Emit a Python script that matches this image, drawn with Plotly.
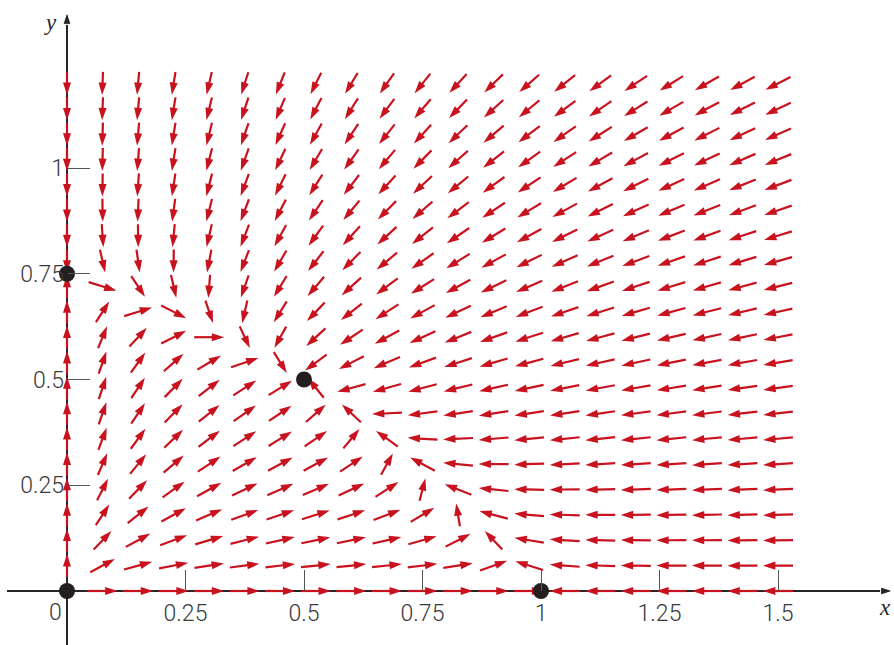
import math
import plotly.graph_objects as go

# ---- data -------------------------------------------------------------
# grid of direction-field sample points
X_GRID = [0.0, 0.075, 0.15, 0.225, 0.3, 0.375, 0.45, 0.525, 0.6, 0.675, 0.75,
          0.825, 0.9, 0.975, 1.05, 1.125, 1.2, 1.275, 1.35, 1.425, 1.5]
Y_GRID = [0.0, 0.06, 0.12, 0.18, 0.24, 0.3, 0.36, 0.42, 0.48, 0.54, 0.6,
          0.66, 0.72, 0.78, 0.84, 0.9, 0.96, 1.02, 1.08, 1.14, 1.2]

# competing-species system  dx/dt = x(a1 - b1 x - c1 y),  dy/dt = y(a2 - b2 y - c2 x)
A1, B1, C1 = 1.0, 1.0, 1.0
A2, B2, C2 = 0.75, 1.0, 0.5

# critical points
EQ_X = [0.0, 1.0, 0.0, 0.5]
EQ_Y = [0.0, 0.0, 0.75, 0.5]

X_TICKS = [0.25, 0.5, 0.75, 1.0, 1.25, 1.5]
X_TICK_LABELS = ["0.25", "0.5", "0.75", "1", "1.25", "1.5"]
Y_TICKS = [0.25, 0.5, 0.75, 1.0]
Y_TICK_LABELS = ["0.25", "0.5", "0.75", "1"]

# ---- layout constants --------------------------------------------------
W, H = 894, 645
X_RANGE = [-0.14135, 1.74473]
Y_RANGE = [-0.12766, 1.39716]
KX = W / (X_RANGE[1] - X_RANGE[0])   # px per x unit
KY = H / (Y_RANGE[1] - Y_RANGE[0])   # px per y unit
HL, VL = 30.0, 23.0                  # arrow pixel length (horizontal / vertical)

RED = "#c8131f"
DARK = "#262626"
TXT = "#3a3a3a"
TICKFONT = dict(family="Roboto, Liberation Sans, sans-serif", size=23, color=TXT, weight=300)


def field(x, y):
    return x * (A1 - B1 * x - C1 * y), y * (A2 - B2 * y - C2 * x)


ax_x, ax_y, ax_s = [], [], []
for gx in X_GRID:
    for gy in Y_GRID:
        f, g = field(gx, gy)
        if f == 0 and g == 0:
            continue
        px, py = f * KX, g * KY
        s = 1.0 / math.sqrt((px / HL) ** 2 + (py / VL) ** 2)
        dx, dy = px * s / KX / 2, py * s / KY / 2
        ax_x += [gx - dx, gx + dx, None]
        ax_y += [gy - dy, gy + dy, None]
        ax_s += [0, 13, 0]

fig = go.Figure()

# axes lines with arrow heads
x_axis_end = (W - 1) / KX + X_RANGE[0]
y_axis_end = Y_RANGE[1] - 12 / KY
fig.add_trace(go.Scatter(
    x=[X_RANGE[0] + 7 / KX, x_axis_end], y=[0, 0], mode="lines+markers",
    line=dict(color=DARK, width=2),
    marker=dict(symbol="arrow", size=[0, 13], angleref="previous", color=DARK, opacity=1),
    hoverinfo="skip", showlegend=False, cliponaxis=False))
fig.add_trace(go.Scatter(
    x=[0, 0], y=[Y_RANGE[0], y_axis_end], mode="lines+markers",
    line=dict(color=DARK, width=2),
    marker=dict(symbol="arrow", size=[0, 13], angleref="previous", color=DARK, opacity=1),
    hoverinfo="skip", showlegend=False, cliponaxis=False))

# direction field
fig.add_trace(go.Scatter(
    x=ax_x, y=ax_y, mode="lines+markers",
    line=dict(color=RED, width=2.2),
    marker=dict(symbol="arrow", size=ax_s, angleref="previous", color=RED,
                opacity=1, line=dict(width=0)),
    hoverinfo="skip", showlegend=False, cliponaxis=False))

# critical points
fig.add_trace(go.Scatter(
    x=EQ_X, y=EQ_Y, mode="markers",
    marker=dict(size=16, color="#231f20", opacity=1),
    hoverinfo="skip", showlegend=False, cliponaxis=False))

fig.update_layout(
    width=W, height=H,
    margin=dict(l=0, r=0, t=0, b=0),
    paper_bgcolor="white", plot_bgcolor="white",
    font=TICKFONT,
    xaxis=dict(range=X_RANGE, showgrid=False, zeroline=False, showline=False,
               anchor="free", position=(0 - Y_RANGE[0]) / (Y_RANGE[1] - Y_RANGE[0]),
               tickmode="array", tickvals=X_TICKS, ticktext=X_TICK_LABELS,
               ticks="inside", ticklen=21, tickwidth=1.3, tickcolor="#555",
               tickfont=TICKFONT, ticklabelstandoff=6,
               automargin=False, fixedrange=True),
    yaxis=dict(range=Y_RANGE, showgrid=False, zeroline=False, showline=False,
               anchor="free", position=(0 - X_RANGE[0]) / (X_RANGE[1] - X_RANGE[0]),
               tickmode="array", tickvals=Y_TICKS, ticktext=Y_TICK_LABELS,
               ticks="inside", ticklen=22, tickwidth=1.3, tickcolor="#555",
               tickfont=TICKFONT, ticklabelstandoff=3,
               automargin=False, fixedrange=True),
    annotations=[
        dict(x=-0.025, y=0, xref="x", yref="y", text="0", showarrow=False,
             xanchor="center", yanchor="top", yshift=-6,
             font=TICKFONT),
        dict(x=x_axis_end, y=0, xref="x", yref="y", text="<i>x</i>", showarrow=False,
             xanchor="right", yanchor="top", yshift=-2, xshift=0,
             font=dict(family="Liberation Serif, serif", size=23, color=DARK)),
        dict(x=0, y=y_axis_end, xref="x", yref="y", text="<i>y</i>", showarrow=False,
             xanchor="right", yanchor="top", xshift=-8, yshift=4,
             font=dict(family="Liberation Serif, serif", size=23, color=DARK)),
    ],
)

fig.write_html("out.html", config={"displayModeBar": False},
               post_script="document.body.style.margin='0';")
